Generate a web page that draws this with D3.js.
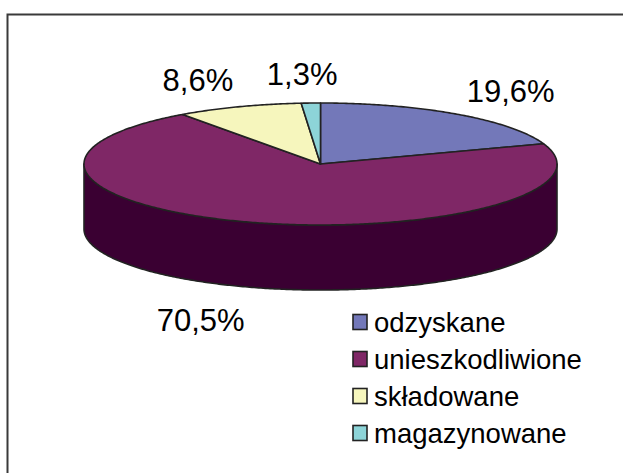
<!DOCTYPE html>
<html><head><meta charset="utf-8">
<script src="https://cdn.jsdelivr.net/npm/d3@7"></script>
<style>html,body{margin:0;padding:0;background:#fff}svg{display:block}</style>
</head><body>
<svg id="c" width="623" height="473"></svg>
<script>
const categories = ["odzyskane", "unieszkodliwione", "składowane", "magazynowane"];
const values = [19.6, 70.5, 8.6, 1.3];
const labels = ["19,6%", "70,5%", "8,6%", "1,3%"];
const topColors = ["#7378B9", "#7F2766", "#F6F6BD", "#8DD4D8"];
const sideColors = ["#393C5C", "#3A0032", "#7B7B5E", "#466A6C"];

const svg = d3.select("#c");
const W = 623, H = 473;
const FONT = "'Liberation Sans', Arial, sans-serif";

// frame
svg.append("rect").attr("x", 7.5).attr("y", 14.5).attr("width", W).attr("height", H)
  .attr("fill", "#fff").attr("stroke", "#3a3a3a").attr("stroke-width", 2);

const cx = 320.5, cy = 164, rx = 236.5, ry = 61, depth = 65;
const pie = d3.pie().sort(null).value(d => d)(values);
const pt = (a, dy = 0) => [cx + rx * Math.sin(a), cy - ry * Math.cos(a) + dy];
const line = d3.line();

function arcPts(a0, a1, dy) {
  const n = Math.max(2, Math.ceil((a1 - a0) / 0.01));
  return d3.range(n + 1).map(i => pt(a0 + (a1 - a0) * i / n, dy));
}

// sides (front half only)
const g = svg.append("g");
pie.forEach((p, i) => {
  const a0 = Math.max(p.startAngle, Math.PI / 2), a1 = Math.min(p.endAngle, 3 * Math.PI / 2);
  if (a1 <= a0) return;
  const pts = arcPts(a0, a1, 0).concat(arcPts(a0, a1, depth).reverse());
  g.append("path").attr("d", line(pts) + "Z")
    .attr("fill", sideColors[i]).attr("stroke", "#222").attr("stroke-width", 1.6)
    .attr("stroke-linejoin", "round");
});

// top faces
pie.forEach((p, i) => {
  const pts = [[cx, cy]].concat(arcPts(p.startAngle, p.endAngle, 0));
  g.append("path").attr("d", line(pts) + "Z")
    .attr("fill", topColors[i]).attr("stroke", "#222").attr("stroke-width", 1.6)
    .attr("stroke-linejoin", "round");
});

// labels
pie.forEach((p, i) => {
  const a = (p.startAngle + p.endAngle) / 2;
  const s = Math.sin(a), c = Math.cos(a);
  const anchor = Math.abs(s) < 0.2 ? "middle" : (s > 0 ? "start" : "end");
  const lx = cx + rx * 1.07 * s - (Math.abs(s) < 0.2 ? 8 : 0);
  const ly = cy - ry * 1.52 * c + (c < 0 ? depth : 0) + 2.5;
  svg.append("text").attr("x", lx).attr("y", ly).attr("dy", "0.36em")
    .attr("text-anchor", anchor).attr("font-family", FONT).attr("font-size", 31)
    .attr("fill", "#000").text(labels[i]);
});

// legend
const ly = d3.scalePoint().domain(categories).range([322, 433]);
const lg = svg.append("g");
categories.forEach((cat, i) => {
  const y = ly(cat);
  lg.append("rect").attr("x", 353).attr("y", y - 7.5).attr("width", 14).attr("height", 15)
    .attr("fill", topColors[i]).attr("stroke", "#222").attr("stroke-width", 1.6);
  lg.append("text").attr("x", 374).attr("y", y).attr("dy", "0.36em")
    .attr("font-family", FONT).attr("font-size", 27.5).attr("fill", "#000").text(cat);
});
</script>
</body></html>
